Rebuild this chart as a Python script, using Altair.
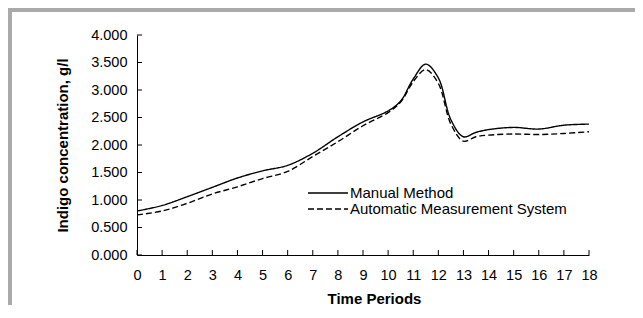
import altair as alt
import pandas as pd

periods = [0, 1, 2, 3, 4, 5, 6, 7, 8, 9, 10, 10.5, 11, 11.5, 12, 12.5, 13, 13.5, 14, 15, 16, 17, 18]
manual = [0.80, 0.90, 1.06, 1.23, 1.40, 1.53, 1.63, 1.85, 2.15, 2.42, 2.62, 2.80, 3.20, 3.47, 3.22, 2.46, 2.15, 2.23, 2.28, 2.32, 2.29, 2.36, 2.38]
automatic = [0.73, 0.80, 0.94, 1.11, 1.24, 1.39, 1.52, 1.79, 2.06, 2.35, 2.59, 2.78, 3.15, 3.37, 3.12, 2.38, 2.07, 2.15, 2.18, 2.20, 2.19, 2.21, 2.24]
series = ["Manual Method", "Automatic Measurement System"]
x_ticks = list(range(0, 19))
y_ticks = [0.0, 0.5, 1.0, 1.5, 2.0, 2.5, 3.0, 3.5, 4.0]

FONT = "Liberation Sans"
W, H = 452, 220

df = pd.DataFrame({
    "t": periods * 2,
    "v": manual + automatic,
    "series": [series[0]] * len(periods) + [series[1]] * len(periods),
})

xscale = alt.Scale(domain=[0, 18], nice=False, zero=False)
yscale = alt.Scale(domain=[0, 4], nice=False)

xaxis = alt.Axis(
    values=x_ticks, format="d", ticks=False, grid=False, domainColor="black",
    labelOverlap=False, labelFlush=False,
    labelFont=FONT, labelFontSize=14.5, labelColor="black", labelPadding=13,
    title="Time Periods", titleFont=FONT, titleFontSize=15, titleFontWeight="bold",
    titleColor="black", titleX=237, titleY=48, titleBaseline="alphabetic", titleAlign="center")
yaxis = alt.Axis(
    values=y_ticks, format=".3f", ticks=False, grid=False, domainColor="black",
    labelOverlap=False, labelFlush=False,
    labelFont=FONT, labelFontSize=14.5, labelColor="black", labelPadding=10,
    title="Indigo concentration, g/l", titleFont=FONT, titleFontSize=15, titleFontWeight="bold",
    titleColor="black", titleX=-75, titleY=110, titleAngle=-90, titleAlign="center",
    titleBaseline="middle")

lines = alt.Chart(df).mark_line(interpolate="catmull-rom", color="black", strokeWidth=1.4).encode(
    x=alt.X("t:Q", scale=xscale, axis=xaxis, title="Time Periods"),
    y=alt.Y("v:Q", scale=yscale, axis=yaxis, title="Indigo concentration, g/l"),
    strokeDash=alt.StrokeDash("series:N", scale=alt.Scale(domain=series, range=[[1, 0], [6, 3]]), legend=None),
)

xt = alt.Chart(pd.DataFrame({"t": x_ticks})).mark_rule(color="black", strokeWidth=1).encode(
    x=alt.X("t:Q", scale=xscale, axis=xaxis, title="Time Periods"), y=alt.value(H - 5), y2=alt.value(H))
yt = alt.Chart(pd.DataFrame({"v": y_ticks})).mark_rule(color="black", strokeWidth=1).encode(
    y=alt.Y("v:Q", scale=yscale, axis=yaxis, title="Indigo concentration, g/l"), x=alt.value(0), x2=alt.value(5))

legend_layers = []
dashes = [[1, 0], [6, 3]]
for i, name in enumerate(series):
    ld = pd.DataFrame({"series": [name]})
    ry = 158 + 16 * i
    legend_layers.append(alt.Chart(ld).mark_rule(color="black", strokeWidth=1.4, strokeDash=dashes[i]).encode(
        x=alt.value(171), x2=alt.value(211), y=alt.value(ry)))
    legend_layers.append(alt.Chart(ld).mark_text(align="left", baseline="middle", font=FONT, fontSize=15, color="black").encode(
        text="series:N", x=alt.value(213), y=alt.value(ry)))

frame_df = pd.DataFrame({"a": [0]})
frame_left = alt.Chart(frame_df).mark_rect(color="#aaaaaa").encode(
    x=alt.value(-129), x2=alt.value(-125), y=alt.value(-27), y2=alt.value(290))
frame_top = alt.Chart(frame_df).mark_rect(color="#aaaaaa").encode(
    x=alt.value(-129), x2=alt.value(510), y=alt.value(-27), y2=alt.value(-23))

chart = alt.layer(frame_left, frame_top, lines, xt, yt, *legend_layers).properties(
    width=W, height=H,
    autosize=alt.AutoSizeParams(type="none"),
    padding={"left": 129, "top": 27, "right": 46, "bottom": 50},
    background="white",
).configure_view(stroke=None)

chart.save("out.html", embed_options={"renderer": "svg", "actions": False})
